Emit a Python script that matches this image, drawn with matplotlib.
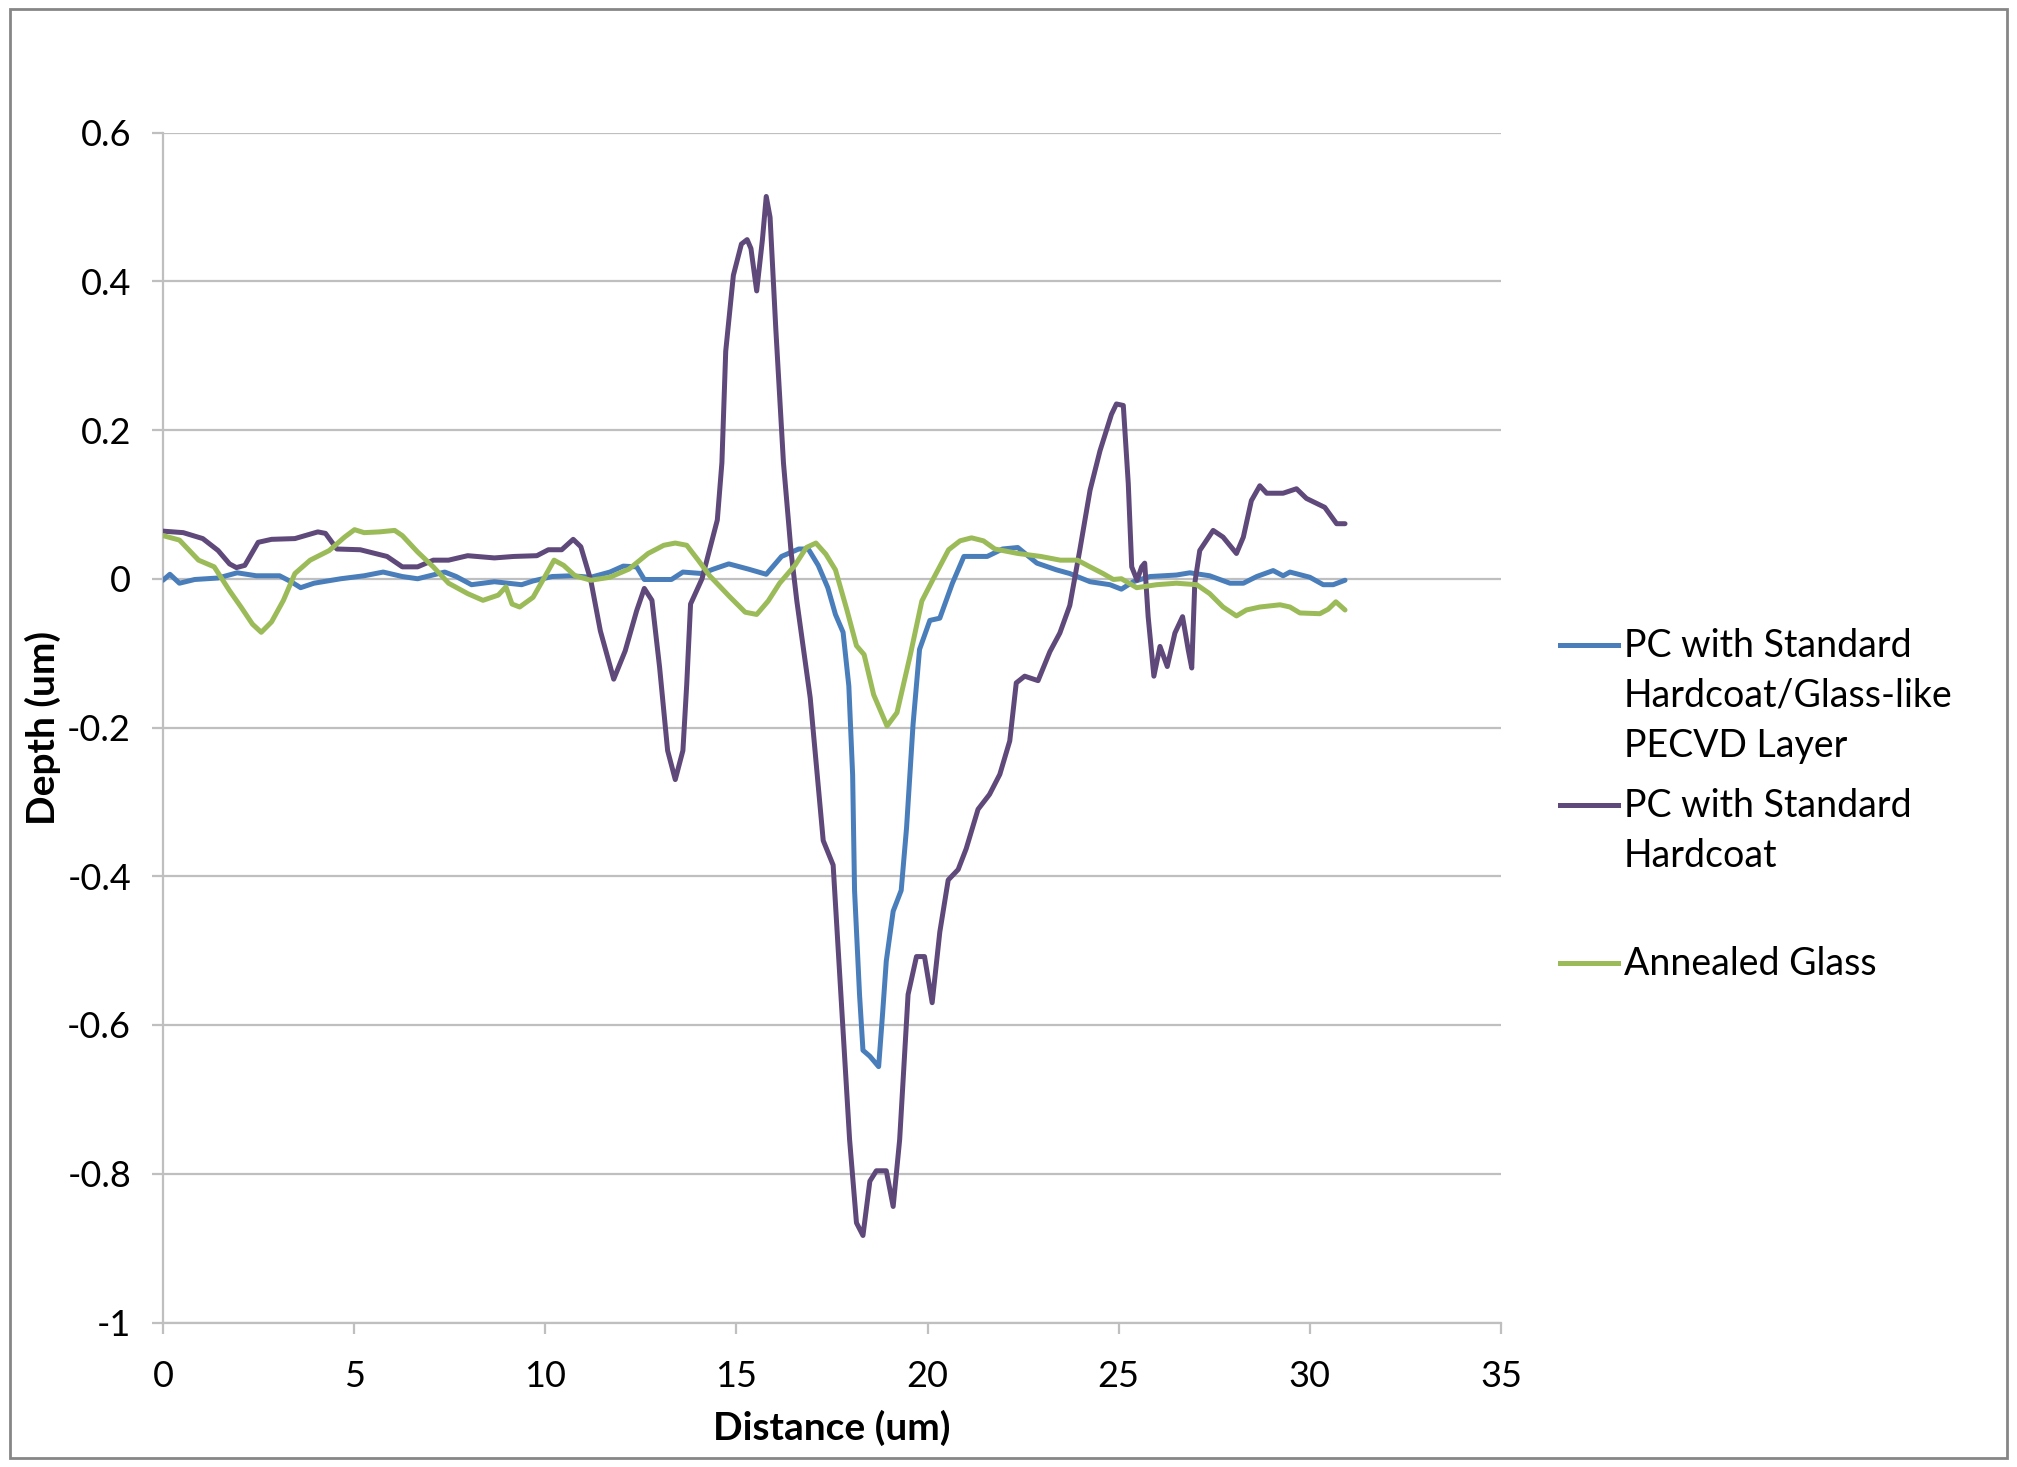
import matplotlib
matplotlib.use('Agg')
import matplotlib.pyplot as plt
from matplotlib.lines import Line2D
from matplotlib.patches import Rectangle

plt.rcParams['font.family'] = ['Lato', 'DejaVu Sans']

# series (x in um, depth in um)
pecvd_x = [0, 0.18, 0.43, 0.83, 1.44, 1.94, 2.44, 3.05, 3.35, 3.60, 3.95, 4.65, 5.26, 5.76,
           6.26, 6.66, 7.37, 7.67, 8.07, 8.67, 9.38, 9.68, 10.18, 10.68, 11.19, 11.69, 12.04,
           12.39, 12.59, 13.30, 13.60, 14.1, 14.40, 14.80, 15.31, 15.78, 16.18, 16.63, 16.88,
           17.14, 17.39, 17.59, 17.79, 17.94, 18.04, 18.09, 18.22, 18.31, 18.49, 18.72, 18.82,
           18.92, 19.10, 19.31, 19.45, 19.62, 19.79, 20.06, 20.32, 20.65, 20.95, 21.56, 21.96,
           22.36, 22.86, 23.37, 23.72, 24.25, 24.77, 25.07, 25.38, 25.82, 26.51, 26.86, 27.38,
           27.91, 28.26, 28.61, 29.04, 29.30, 29.48, 30.00, 30.35, 30.61, 30.92]
pecvd_y = [-0.002, 0.006, -0.006, -0.001, 0.001, 0.008, 0.004, 0.004, -0.004, -0.012, -0.006,
           0.0, 0.004, 0.009, 0.003, 0.0, 0.009, 0.003, -0.008, -0.004, -0.008, -0.003, 0.003,
           0.004, 0.002, 0.009, 0.017, 0.016, -0.001, -0.001, 0.009, 0.007, 0.013, 0.020, 0.013,
           0.006, 0.030, 0.040, 0.040, 0.018, -0.012, -0.048, -0.072, -0.144, -0.264, -0.419,
           -0.559, -0.634, -0.642, -0.656, -0.587, -0.514, -0.447, -0.419, -0.335, -0.196,
           -0.095, -0.056, -0.053, -0.006, 0.030, 0.030, 0.040, 0.042, 0.021, 0.012, 0.007,
           -0.004, -0.008, -0.014, -0.004, 0.003, 0.005, 0.008, 0.004, -0.006, -0.006, 0.003,
           0.011, 0.004, 0.009, 0.002, -0.008, -0.008, -0.002]

hardcoat_x = [0, 0.53, 1.04, 1.44, 1.74, 1.92, 2.14, 2.49, 2.84, 3.45, 4.05, 4.25, 4.55, 5.16,
              5.86, 6.26, 6.66, 7.07, 7.47, 7.97, 8.67, 9.18, 9.78, 10.08, 10.43, 10.73, 10.93,
              11.19, 11.44, 11.79, 12.09, 12.39, 12.59, 12.79, 12.99, 13.20, 13.40, 13.60, 13.70,
              13.80, 14.1, 14.50, 14.62, 14.72, 14.92, 15.13, 15.28, 15.38, 15.53, 15.68, 15.78,
              15.88, 16.03, 16.23, 16.43, 16.58, 16.93, 17.27, 17.53, 17.70, 17.96, 18.14, 18.31,
              18.49, 18.66, 18.92, 19.10, 19.27, 19.49, 19.71, 19.92, 20.12, 20.32, 20.54, 20.80,
              21.01, 21.32, 21.62, 21.89, 22.15, 22.32, 22.54, 22.89, 23.2, 23.46, 23.72, 23.98,
              24.25, 24.51, 24.81, 24.94, 25.12, 25.25, 25.34, 25.48, 25.60, 25.68, 25.77, 25.92,
              26.08, 26.27, 26.47, 26.67, 26.82, 26.91, 26.99, 27.12, 27.47, 27.73, 28.08, 28.26,
              28.47, 28.69, 28.87, 29.30, 29.65, 29.91, 30.39, 30.70, 30.92]
hardcoat_y = [0.064, 0.062, 0.054, 0.038, 0.020, 0.015, 0.018, 0.049, 0.053, 0.054, 0.063, 0.061,
              0.040, 0.039, 0.030, 0.016, 0.016, 0.025, 0.025, 0.031, 0.028, 0.030, 0.031, 0.039,
              0.039, 0.053, 0.043, -0.002, -0.070, -0.135, -0.097, -0.043, -0.013, -0.029, -0.119,
              -0.231, -0.270, -0.231, -0.142, -0.034, 0.0, 0.079, 0.156, 0.306, 0.408, 0.450,
              0.456, 0.444, 0.387, 0.456, 0.514, 0.486, 0.336, 0.156, 0.036, -0.030, -0.160,
              -0.352, -0.385, -0.531, -0.754, -0.866, -0.883, -0.810, -0.796, -0.796, -0.844,
              -0.754, -0.559, -0.508, -0.508, -0.570, -0.475, -0.405, -0.391, -0.363, -0.310,
              -0.290, -0.263, -0.218, -0.140, -0.131, -0.137, -0.098, -0.073, -0.036, 0.038,
              0.119, 0.172, 0.221, 0.235, 0.233, 0.128, 0.016, -0.002, 0.016, 0.021, -0.051,
              -0.131, -0.091, -0.118, -0.073, -0.051, -0.096, -0.120, -0.006, 0.038, 0.065, 0.056,
              0.034, 0.056, 0.105, 0.125, 0.115, 0.115, 0.121, 0.108, 0.096, 0.074, 0.074]

glass_x = [0, 0.43, 0.93, 1.34, 1.74, 2.04, 2.34, 2.57, 2.84, 3.15, 3.45, 3.85, 4.35, 4.75, 5.01,
           5.26, 5.66, 6.06, 6.26, 6.66, 7.07, 7.47, 7.97, 8.37, 8.77, 8.97, 9.13, 9.33, 9.68,
           9.98, 10.23, 10.48, 10.78, 11.19, 11.69, 12.19, 12.69, 13.10, 13.40, 13.70, 14.0,
           14.30, 14.82, 15.23, 15.53, 15.83, 16.13, 16.53, 16.83, 17.08, 17.34, 17.59, 17.89,
           18.14, 18.34, 18.59, 18.94, 19.20, 19.55, 19.85, 20.15, 20.55, 20.85, 21.15, 21.46,
           21.76, 22.36, 22.96, 23.47, 23.92, 24.25, 24.59, 24.86, 25.07, 25.47, 25.99, 26.51,
           27.04, 27.38, 27.73, 28.08, 28.34, 28.69, 29.22, 29.48, 29.74, 30.26, 30.48, 30.68, 30.92]
glass_y = [0.058, 0.052, 0.025, 0.016, -0.016, -0.038, -0.061, -0.072, -0.058, -0.029, 0.007,
           0.025, 0.038, 0.056, 0.066, 0.062, 0.063, 0.065, 0.058, 0.036, 0.016, -0.006, -0.020,
           -0.029, -0.022, -0.011, -0.034, -0.038, -0.025, 0.002, 0.025, 0.018, 0.004, -0.002,
           0.002, 0.013, 0.034, 0.045, 0.048, 0.045, 0.025, 0.004, -0.024, -0.045, -0.048,
           -0.030, -0.006, 0.018, 0.042, 0.048, 0.033, 0.012, -0.042, -0.090, -0.102, -0.156,
           -0.198, -0.180, -0.102, -0.030, 0.0, 0.039, 0.051, 0.055, 0.051, 0.040, 0.034, 0.030,
           0.025, 0.025, 0.016, 0.007, -0.001, 0.0, -0.012, -0.008, -0.006, -0.008, -0.020,
           -0.038, -0.050, -0.042, -0.038, -0.035, -0.038, -0.046, -0.047, -0.041, -0.031, -0.042]

labels = ['PC with Standard\nHardcoat/Glass-like\nPECVD Layer',
          'PC with Standard\nHardcoat',
          'Annealed Glass']
colors = ['#4A7EBB', '#5F497A', '#9BBB59']
x_ticks = [0, 5, 10, 15, 20, 25, 30, 35]
y_ticks = [-1, -0.8, -0.6, -0.4, -0.2, 0, 0.2, 0.4, 0.6]
y_ticklabels = ['-1', '-0.8', '-0.6', '-0.4', '-0.2', '0', '0.2', '0.4', '0.6']

W, H = 2017, 1467
fig = plt.figure(figsize=(W / 100, H / 100), dpi=100)
ax = fig.add_axes([163 / W, 1 - 1322.5 / H, (1501 - 163) / W, (1322.5 - 132.5) / H])

series = [(pecvd_x, pecvd_y), (hardcoat_x, hardcoat_y), (glass_x, glass_y)]
for (xs, ys), c in zip(series, colors):
    ax.plot(xs, ys, color=c, lw=3.6, solid_joinstyle='round', solid_capstyle='round', zorder=3)

ax.set_xlim(0, 35)
ax.set_ylim(-1, 0.6)
ax.set_xticks(x_ticks)
ax.set_yticks(y_ticks)
ax.set_yticklabels(y_ticklabels)
ax.yaxis.grid(True, color='#BFBFBF', lw=1.6)
ax.set_axisbelow(True)
for s in ['top', 'right']:
    ax.spines[s].set_visible(False)
for s in ['left', 'bottom']:
    ax.spines[s].set_color('#BFBFBF')
    ax.spines[s].set_linewidth(1.6)
ax.tick_params(axis='both', direction='out', length=8, width=1.6, color='#BFBFBF',
               labelsize=26, labelcolor='black')
ax.tick_params(axis='y', pad=15)
ax.tick_params(axis='x', pad=19)
ax.set_xlabel('Distance (um)', fontsize=28, fontweight='bold', labelpad=12)
ax.set_ylabel('Depth (um)', fontsize=28, fontweight='bold', labelpad=4)

# legend drawn by hand so the marker sits on the first line of each label
entry_y = [657, 817, 975]
line_gap = 50
for lab, c, yb in zip(labels, colors, entry_y):
    fig.add_artist(Line2D([1560 / W, 1618 / W], [1 - (yb - 12) / H] * 2, color=c, lw=3.6))
    for i, part in enumerate(lab.split('\n')):
        fig.text(1624 / W, 1 - (yb + i * line_gap) / H, part, fontsize=27, va='baseline', ha='left')

fig.add_artist(Rectangle((10 / W, 1 - 1458 / H), 1997 / W, 1449 / H, transform=fig.transFigure,
                         fill=False, edgecolor='#868686', lw=2))

fig.savefig('out.png', dpi=100)
